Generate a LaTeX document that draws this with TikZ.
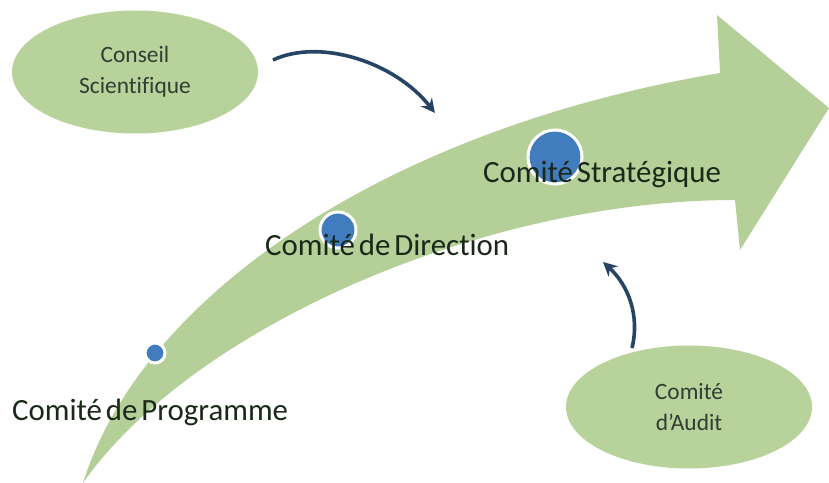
\documentclass[tikz,border=0pt]{standalone}
\usepackage{fontspec}
\setmainfont{Carlito}[Ligatures={NoCommon}]
\newfontfamily\labelfont{Carlito}[Ligatures={NoCommon},WordSpace=0.55]
\usetikzlibrary{shapes.geometric,arrows.meta}
\definecolor{leaf}{RGB}{180,208,152}
\definecolor{bubble}{RGB}{184,210,156}
\definecolor{ink}{RGB}{26,40,26}
\definecolor{dotblue}{RGB}{64,124,190}
\definecolor{navy}{RGB}{40,68,100}
\tikzset{
  bubblebox/.style={ellipse, fill=bubble, draw=none, minimum width=246bp, minimum height=123bp,
    inner sep=0pt, align=center, text=ink!90, font=\fontsize{23.5}{31}\selectfont},
  stagelabel/.style={anchor=base west, inner sep=0pt, text=ink, font=\labelfont\fontsize{31}{36}\selectfont},
  milestone/.style={circle, fill=dotblue, draw=white, line width=3bp, inner sep=0pt},
  linkarrow/.style={draw=navy, line width=3.6bp, -{Stealth[length=14bp,width=14bp]}}
}
\begin{document}
\begin{tikzpicture}[x=1bp,y=-1bp]
\useasboundingbox (0,0) rectangle (829,483);

% big curved arrow
\fill[leaf] (83,483) .. controls (140,300) and (380,130) .. (720,73)
  -- (717,15) -- (829,108) -- (740,250) -- (735,200)
  .. controls (480,200) and (190,330) .. (83,483) -- cycle;

% milestones on the arrow
\node[milestone, minimum size=20bp] (m1) at (155,353) {};
\node[milestone, minimum size=36bp] (m2) at (338,230) {};
\node[milestone, minimum size=54bp] (m3) at (555,157) {};

% stage labels
\node[stagelabel] (prog) at (12,420) {Comité de Programme};
\node[stagelabel] (dir) at (265,256) {Comité de Direction};
\node[stagelabel] (strat) at (483,183) {Comité Stratégique};

% side committees
\node[bubblebox] (cs) at (135,72) {Conseil\\Scientifique};
\node[bubblebox] (ca) at (689,407) {Comité\\d’Audit};

% influence arrows
\coordinate (csout) at (273,60);
\coordinate (csin) at (435,113);
\coordinate (caout) at (632,348);
\coordinate (cain) at (603,262);
\draw[linkarrow] (csout) .. controls (320,38) and (395,62) .. (csin);
\draw[linkarrow] (caout) .. controls (640,315) and (628,285) .. (cain);
\end{tikzpicture}
\end{document}
